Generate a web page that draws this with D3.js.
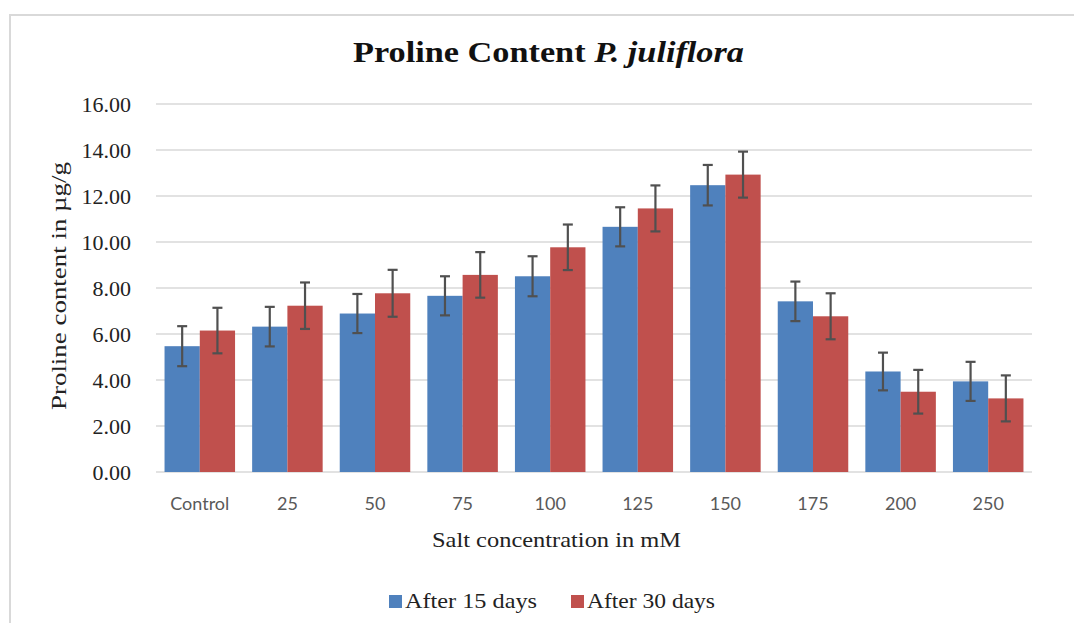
<!DOCTYPE html>
<html lang="en">
<head>
  <meta charset="UTF-8">
  <title>Proline Content P. juliflora</title>
  <script src="https://d3js.org/d3.v7.min.js"></script>
  <style>
    body { margin: 0; background: #fff; }
    .serif { font-family: "Liberation Serif", "Times New Roman", serif; }
    .tick-x text { font-family: Lato, "Open Sans", sans-serif; }
  </style>
</head>
<body>
  <div id="chart"></div>
  <script>
    // Data
    const categories = ["Control", "25", "50", "75", "100", "125", "150", "175", "200", "250"];
    const seriesNames = ["After 15 days", "After 30 days"];
    const after15 = [5.47, 6.32, 6.89, 7.66, 8.51, 10.66, 12.47, 7.42, 4.37, 3.94];
    const after30 = [6.15, 7.23, 7.77, 8.57, 9.77, 11.46, 12.93, 6.77, 3.49, 3.20];
    const err15 = [0.87, 0.86, 0.85, 0.85, 0.87, 0.85, 0.88, 0.86, 0.82, 0.85];
    const err30 = [0.99, 1.01, 1.02, 0.99, 0.99, 1.00, 1.00, 1.00, 0.95, 1.00];
    const yTicks = [0, 2, 4, 6, 8, 10, 12, 14, 16];

    const colors = ["#4F81BD", "#C0504D"];

    const width = 1074;
    const height = 623;
    const margin = { top: 104, right: 42, bottom: 151, left: 156 };

    const svg = d3.select("#chart")
      .append("svg")
      .attr("width", width)
      .attr("height", height);

    // chart frame
    svg.append("rect")
      .attr("x", 10).attr("y", 15)
      .attr("width", width + 20).attr("height", height + 20)
      .attr("fill", "none")
      .attr("stroke", "#d9d9d9")
      .attr("stroke-width", 2);

    const x0 = d3.scaleBand()
      .domain(categories)
      .range([margin.left, width - margin.right])
      .paddingInner(0.195)
      .paddingOuter(0.0975);

    const x1 = d3.scaleBand()
      .domain(seriesNames)
      .range([0, x0.bandwidth()]);

    const y = d3.scaleLinear()
      .domain([0, 16])
      .range([height - margin.bottom, margin.top]);

    // gridlines
    svg.append("g")
      .selectAll("line")
      .data(yTicks)
      .join("line")
      .attr("x1", margin.left)
      .attr("x2", width - margin.right)
      .attr("y1", d => y(d))
      .attr("y2", d => y(d))
      .attr("stroke", "#d9d9d9")
      .attr("stroke-width", 1.5);

    // y axis labels
    const yAxis = svg.append("g")
      .attr("transform", `translate(${margin.left - 22},0)`)
      .call(d3.axisLeft(y).tickValues(yTicks).tickFormat(d3.format(".2f")).tickSize(0));
    yAxis.select(".domain").remove();
    yAxis.selectAll("text")
      .style("font-family", "'Liberation Serif', serif")
      .style("font-size", "22px")
      .attr("fill", "#222");

    // x axis labels
    const xAxis = svg.append("g")
      .attr("class", "tick-x")
      .attr("transform", `translate(0,${height - margin.bottom + 22})`)
      .call(d3.axisBottom(x0).tickSize(0));
    xAxis.select(".domain").remove();
    xAxis.selectAll("text")
      .style("font-family", "Lato, sans-serif")
      .style("font-size", "18px")
      .attr("fill", "#595959");

    // bars
    const rows = categories.map((c, i) => ({
      cat: c,
      vals: [
        { s: seriesNames[0], v: after15[i], e: err15[i], c: colors[0] },
        { s: seriesNames[1], v: after30[i], e: err30[i], c: colors[1] }
      ]
    }));

    const groups = svg.append("g")
      .selectAll("g")
      .data(rows)
      .join("g")
      .attr("transform", d => `translate(${x0(d.cat)},0)`);

    groups.selectAll("rect")
      .data(d => d.vals)
      .join("rect")
      .attr("x", d => x1(d.s))
      .attr("y", d => y(d.v))
      .attr("width", x1.bandwidth())
      .attr("height", d => y(0) - y(d.v))
      .attr("fill", d => d.c);

    // error bars
    const eb = groups.selectAll("g.err")
      .data(d => d.vals)
      .join("g")
      .attr("class", "err")
      .attr("stroke", "#505050")
      .attr("stroke-width", 2.2);

    const cx = d => x1(d.s) + x1.bandwidth() / 2;
    eb.append("line")
      .attr("x1", cx).attr("x2", cx)
      .attr("y1", d => y(d.v + d.e))
      .attr("y2", d => y(d.v - d.e));
    eb.append("line")
      .attr("x1", d => cx(d) - 5).attr("x2", d => cx(d) + 5)
      .attr("y1", d => y(d.v + d.e))
      .attr("y2", d => y(d.v + d.e));
    eb.append("line")
      .attr("x1", d => cx(d) - 5).attr("x2", d => cx(d) + 5)
      .attr("y1", d => y(d.v - d.e))
      .attr("y2", d => y(d.v - d.e));

    // title
    const title = svg.append("text")
      .attr("class", "serif")
      .attr("x", 548.5)
      .attr("y", 62)
      .attr("text-anchor", "middle")
      .attr("font-size", 29)
      .attr("font-weight", "bold")
      .attr("textLength", 391)
      .attr("lengthAdjust", "spacingAndGlyphs")
      .attr("fill", "#111");
    title.append("tspan").text("Proline Content ");
    title.append("tspan").attr("font-style", "italic").text("P. juliflora");

    // y axis title
    svg.append("text")
      .attr("class", "serif")
      .attr("transform", `translate(66,${(y(0) + y(16)) / 2 - 2}) rotate(-90)`)
      .attr("text-anchor", "middle")
      .attr("font-size", 22)
      .attr("textLength", 248)
      .attr("lengthAdjust", "spacingAndGlyphs")
      .attr("fill", "#222")
      .text("Proline content in µg/g");

    // x axis title
    svg.append("text")
      .attr("class", "serif")
      .attr("x", 556.5)
      .attr("y", 547)
      .attr("text-anchor", "middle")
      .attr("font-size", 22)
      .attr("textLength", 249)
      .attr("lengthAdjust", "spacingAndGlyphs")
      .attr("fill", "#222")
      .text("Salt concentration in mM");

    // legend
    const legendX = [389, 571];
    const legendLen = [132, 128];
    const legend = svg.append("g")
      .selectAll("g")
      .data(seriesNames)
      .join("g")
      .attr("transform", (d, i) => `translate(${legendX[i]},595)`);
    legend.append("rect")
      .attr("width", 13).attr("height", 13)
      .attr("fill", (d, i) => colors[i]);
    legend.append("text")
      .attr("class", "serif")
      .attr("x", 16)
      .attr("y", 12.5)
      .attr("font-size", 22)
      .attr("textLength", (d, i) => legendLen[i])
      .attr("lengthAdjust", "spacingAndGlyphs")
      .attr("fill", "#222")
      .text(d => d);
  </script>
</body>
</html>
